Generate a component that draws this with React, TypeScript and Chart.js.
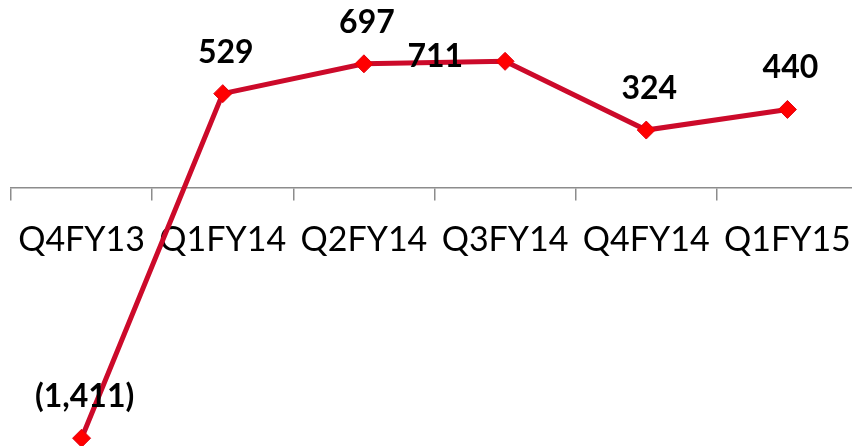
import React, { useEffect, useRef } from "react";
import { Chart, registerables } from "chart.js";

Chart.register(...registerables);

const categories = ["Q4FY13", "Q1FY14", "Q2FY14", "Q3FY14", "Q4FY14", "Q1FY15"];
const values = [-1411, 529, 697, 711, 324, 440];
const labelPlacement = ["above", "above", "above", "left", "above", "above"];

const formatValue = (v: number) =>
  v < 0 ? `(${Math.abs(v).toLocaleString("en-US")})` : v.toLocaleString("en-US");

const dataLabels = {
  id: "dataLabels",
  afterDatasetsDraw(chart: any) {
    const meta = chart.getDatasetMeta(0);
    const ctx = chart.ctx;
    ctx.save();
    ctx.font = "bold 32px Lato";
    ctx.fillStyle = "#000";
    ctx.textBaseline = "alphabetic";
    meta.data.forEach((pt: any, i: number) => {
      const txt = formatValue(values[i]);
      if (labelPlacement[i] === "left") {
        ctx.textAlign = "right";
        ctx.fillText(txt, pt.x - 42, pt.y + 6);
      } else {
        ctx.textAlign = "center";
        ctx.fillText(txt, pt.x + 3, pt.y - 31);
      }
    });
    ctx.restore();
  },
};

export default function App() {
  const ref = useRef<HTMLCanvasElement>(null);
  useEffect(() => {
    document.body.style.overflow = "hidden";
    const chart = new Chart(ref.current!, {
      type: "line",
      data: {
        labels: categories,
        datasets: [
          {
            data: values,
            borderColor: "#CC0A2A",
            borderWidth: 5,
            pointStyle: "rectRot",
            pointRadius: 9,
            pointBackgroundColor: "#FF0000",
            pointBorderColor: "#E00010",
            pointBorderWidth: 1,
            tension: 0,
            clip: false,
          },
        ],
      },
      options: {
        animation: false,
        responsive: false,
        devicePixelRatio: 1,
        layout: { autoPadding: false, padding: { left: 11, right: 0, top: 10, bottom: 6 } },
        plugins: {
          legend: { display: false },
          tooltip: { enabled: false },
        },
        scales: {
          x: {
            type: "category",
            offset: true,
            position: { y: 0 },
            grid: {
              offset: true,
              drawOnChartArea: false,
              drawTicks: true,
              tickLength: 12,
              color: "#8c8c8c",
              lineWidth: 1.5,
            },
            border: { display: true, color: "#8c8c8c", width: 1.5 },
            ticks: {
              font: { family: "Lato", size: 34 },
              color: "#000",
              padding: 20,
              maxRotation: 0,
              autoSkip: false,
            },
            afterFit: (s: any) => {
              s.height = 0;
              s.paddingLeft = 0;
              s.paddingRight = 0;
              s.paddingTop = 0;
              s.paddingBottom = 0;
            },
          },
          y: { display: false, min: -1500, max: 1000 },
        },
      },
      plugins: [dataLabels],
    } as any);
    return () => chart.destroy();
  }, []);
  return (
    <div
      style={{
        position: "fixed",
        left: 0,
        top: 0,
        width: 852,
        height: 446,
        overflow: "hidden",
        background: "#fff",
      }}
    >
      <canvas ref={ref} width={858} height={460} style={{ display: "block" }} />
    </div>
  );
}
